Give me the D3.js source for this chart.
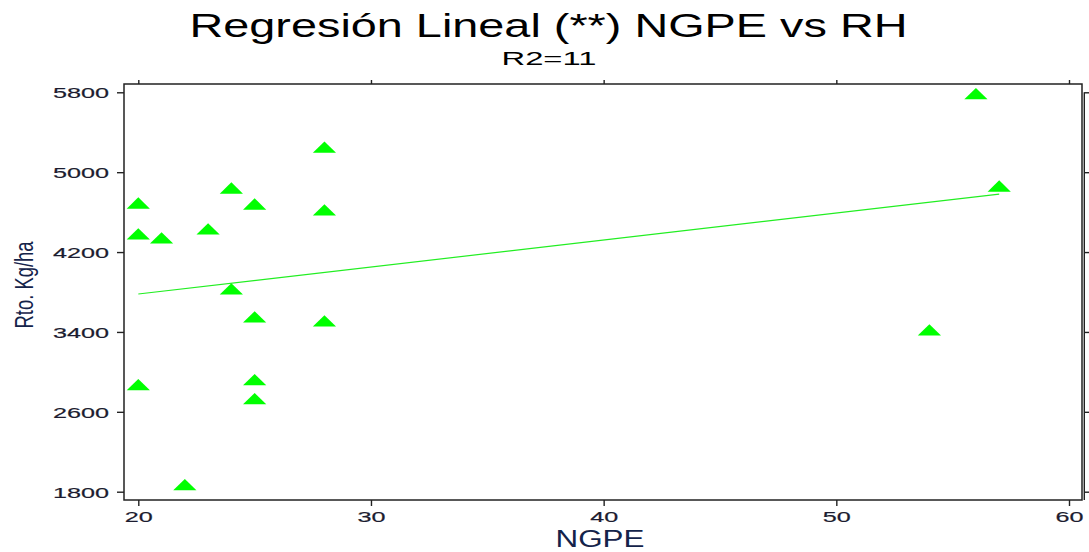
<!DOCTYPE html>
<html>
<head>
<meta charset="utf-8">
<script src="https://cdn.jsdelivr.net/npm/d3@7"></script>
<style>
  html, body { margin: 0; padding: 0; background: #fff; }
  svg { display: block; font-family: "Liberation Sans", Arial, sans-serif; }
</style>
</head>
<body>
<svg id="chart" width="1089" height="552"></svg>
<script>
// ---- data ----
const ngpe = [20, 20, 20, 21, 22, 23, 24, 24, 25, 25, 25, 25, 28, 28, 28, 54, 56, 57];
const rto  = [4690, 4380, 2870, 4340, 1870, 4430, 4840, 3830, 4680, 3550, 2920, 2730, 5250, 4620, 3510, 3420, 5785, 4860];
const fitX = [20, 57];
const fitY = [3780, 4780];
const xTicks = [20, 30, 40, 50, 60];
const yTicks = [1800, 2600, 3400, 4200, 5000, 5800];
const titleText = "Regresión Lineal (**) NGPE vs RH";
const subtitleText = "R2=11";
const xLabel = "NGPE";
const yLabel = "Rto. Kg/ha";

// ---- layout ----
const svg = d3.select("#chart");
const frame = {left: 124, right: 1082, top: 84, bottom: 500};
const x = d3.scaleLinear().domain([20, 60]).range([138.3, 1069]);
const y = d3.scaleLinear().domain([1800, 5800]).range([491.7, 92.3]);
const axisColor = "#222";
const labelColor = "#1c1c30";

// frame
svg.append("rect")
  .attr("x", frame.left).attr("y", frame.top)
  .attr("width", frame.right - frame.left).attr("height", frame.bottom - frame.top)
  .attr("fill", "none").attr("stroke", axisColor).attr("stroke-width", 1.5);

// bottom axis
const gx = svg.append("g").attr("transform", `translate(0,${frame.bottom})`)
  .call(d3.axisBottom(x).tickValues(xTicks).tickSize(6).tickSizeOuter(0).tickFormat(d3.format("d")));
gx.select(".domain").remove();
gx.selectAll("line").attr("stroke", axisColor).attr("stroke-width", 1.4);
gx.selectAll("text").attr("font-size", 15).attr("fill", labelColor)
  .attr("y", 22).attr("dy", 0).attr("stroke", labelColor).attr("stroke-width", 0.2)
  .attr("textLength", 28).attr("lengthAdjust", "spacingAndGlyphs");

// top axis ticks
const gt = svg.append("g").attr("transform", `translate(0,${frame.top})`)
  .call(d3.axisTop(x).tickValues(xTicks).tickSize(4).tickSizeOuter(0).tickFormat(""));
gt.select(".domain").remove();
gt.selectAll("line").attr("stroke", axisColor).attr("stroke-width", 1.4);

// left axis
const gy = svg.append("g").attr("transform", `translate(${frame.left},0)`)
  .call(d3.axisLeft(y).tickValues(yTicks).tickSize(7).tickSizeOuter(0).tickFormat(d3.format("d")));
gy.select(".domain").remove();
gy.selectAll("line").attr("stroke", axisColor).attr("stroke-width", 1.4);
gy.selectAll("text").attr("font-size", 15).attr("fill", labelColor)
  .attr("x", -15).attr("dy", "0.36em").attr("stroke", labelColor).attr("stroke-width", 0.2)
  .attr("textLength", 56).attr("lengthAdjust", "spacingAndGlyphs");

// right axis
const gr = svg.append("g").attr("transform", `translate(1084.3,0)`)
  .call(d3.axisRight(y).tickValues(yTicks).tickSize(5).tickSizeOuter(0).tickFormat(""));
gr.select(".domain").attr("stroke", axisColor).attr("stroke-width", 1.4)
  .attr("d", `M0,${y(5800)}V${frame.bottom}`);
gr.selectAll("line").attr("stroke", axisColor).attr("stroke-width", 1.4);

// regression line
const line = d3.line().x(d => x(d[0])).y(d => y(d[1]));
svg.append("path")
  .datum(d3.zip(fitX, fitY))
  .attr("d", line)
  .attr("fill", "none").attr("stroke", "#22ee22").attr("stroke-width", 1.2);

// points (triangles)
const tri = (cx, cy) => `M${cx},${cy - 5.8}L${cx + 11.6},${cy + 5.5}L${cx - 11.6},${cy + 5.5}Z`;
svg.append("g").selectAll("path")
  .data(d3.zip(ngpe, rto))
  .join("path")
  .attr("d", d => tri(x(d[0]), y(d[1])))
  .attr("fill", "#00ff00");

// titles
svg.append("text").text(titleText)
  .attr("x", 548.5).attr("y", 37).attr("text-anchor", "middle")
  .attr("font-size", 33).attr("fill", "#000")
  .attr("textLength", 718).attr("lengthAdjust", "spacingAndGlyphs");
svg.append("text").text(subtitleText)
  .attr("x", 549).attr("y", 65).attr("text-anchor", "middle")
  .attr("font-size", 18).attr("fill", "#000")
  .attr("textLength", 95).attr("lengthAdjust", "spacingAndGlyphs");

// axis labels
svg.append("text").text(xLabel)
  .attr("x", 600).attr("y", 547).attr("text-anchor", "middle")
  .attr("font-size", 23).attr("fill", "#14234a")
  .attr("textLength", 89).attr("lengthAdjust", "spacingAndGlyphs");
svg.append("text").text(yLabel)
  .attr("transform", "translate(33,285) rotate(-90)")
  .attr("text-anchor", "middle")
  .attr("font-size", 25).attr("fill", "#14234a")
  .attr("textLength", 87).attr("lengthAdjust", "spacingAndGlyphs");
</script>
</body>
</html>
